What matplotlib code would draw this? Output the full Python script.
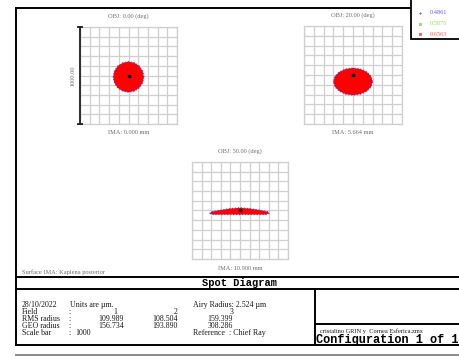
import matplotlib
matplotlib.use("Agg")
import matplotlib.pyplot as plt
from matplotlib.patches import Rectangle

W, H = 459, 356

# field / report data
field_num = [1, 2, 3]
field_obj_deg = [0.00, 20.00, 50.00]
field_ima_mm = [0.000, 5.664, 10.900]
rms_radius = [109.989, 108.504, 159.399]
geo_radius = [156.734, 193.890, 308.286]
scale_bar = 1000
airy_radius = 2.524
wavelengths = [0.4861, 0.5876, 0.6563]
wave_colors = ["#5e5eff", "#a2de62", "#ff5e5e"]

# spot outlines (um, relative to the chief ray)
spot1_x = [158, 146, 112, 60, 0, -60, -112, -146, -158, -146, -112, -60, 0, 60, 112, 146]
spot1_y = [-15, 45, 97, 131, 143, 131, 97, 45, -15, -75, -127, -161, -173, -161, -127, -75]
spot2_x = [200, 185, 141, 77, 0, -77, -141, -185, -200, -185, -141, -77, 0, 77, 141, 185]
spot2_y = [-67, -14, 31, 61, 72, 61, 31, -14, -67, -120, -165, -195, -206, -195, -165, -120]
spot3_x = [-315, -280, 0, 270, 305, 290, 200, 100, 0, -100, -200, -295]
spot3_y = [-30, -42, -42, -42, -30, -12, 5, 20, 28, 20, 5, -12]
spots = [(spot1_x, spot1_y), (spot2_x, spot2_y), (spot3_x, spot3_y)]

# layout (pixels)
boxes = [(80, 27, 97, 97), (304, 26, 98, 98), (192, 162, 96, 97)]
SERIF = "Liberation Serif"
MONO = "Liberation Mono"
LABEL_GRAY = "#6e6e6e"
TEXT = "#161616"

fig = plt.figure(figsize=(W / 100, H / 100), dpi=100)
fig.patch.set_facecolor("white")

# overlay in pixel coordinates for frame and text
ov = fig.add_axes([0, 0, 1, 1])
ov.set_xlim(0, W)
ov.set_ylim(H, 0)
ov.axis("off")

half = scale_bar / 2
ticks = list(range(-500, 501, 100))

for i, (box, (sx, sy)) in enumerate(zip(boxes, spots)):
    x, y, w, h = box
    ax = fig.add_axes([x / W, 1 - (y + h) / H, w / W, h / H])
    ax.set_xlim(-half, half)
    ax.set_ylim(-half, half)
    ax.set_xticks(ticks)
    ax.set_yticks(ticks)
    ax.grid(color="#cfcfcf", lw=0.9)
    ax.set_axisbelow(True)
    ax.tick_params(length=0, labelbottom=False, labelleft=False)
    for s in ax.spines.values():
        s.set_color("#cfcfcf")
        s.set_linewidth(0.9)
    ax.fill(sx, sy, facecolor="#ff0000", edgecolor="#5a3cc8",
            lw=0.8, ls=":", zorder=3)
    ax.plot([0], [0], "o", color="black", ms=1.6, zorder=4)

    ov.text(x + w / 2, y - 11, f"OBJ: {field_obj_deg[i]:.2f} (deg)",
            ha="center", va="center", fontsize=4.6, family=SERIF, color=LABEL_GRAY)
    ov.text(x + w / 2, y + h + 9, f"IMA: {field_ima_mm[i]:.3f} mm",
            ha="center", va="center", fontsize=4.6, family=SERIF, color=LABEL_GRAY)

    if i == 0:
        ax.plot([-half, -half], [-half, half], color="#1e1e1e", lw=1.3,
                clip_on=False, zorder=5)
        ax.plot([-half, -half], [-half, half], ls="none", marker="_", ms=4.5,
                mew=1.3, color="#1e1e1e", clip_on=False, zorder=5)
        ax.text(-half - 70, 0, f"{scale_bar:.2f}", rotation=90, ha="center",
                va="center", fontsize=4.6, family=SERIF, color=LABEL_GRAY)

# frame
k = dict(color="black", lw=1.4)
ov.plot([16, 411], [8, 8], **k)
ov.plot([16, 16], [8, 345], **k)
for yy in (277, 289, 345):
    ov.plot([16, W], [yy, yy], **k)
ov.plot([315, 315], [289, 345], **k)
ov.plot([315, W], [324, 324], **k)
ov.plot([16, W], [355, 355], color="#8a8a8a", lw=1.4)

# legend box
ov.add_patch(Rectangle((411, -2), 60, 40.5, facecolor="white",
                       edgecolor="black", lw=1.3, zorder=6))
markers = ["+", "s", "s"]
for j, (wl, c) in enumerate(zip(wavelengths, wave_colors)):
    ly = 13 + j * 10.5
    ov.plot(420, ly, marker=markers[j], color=c, ms=1.4, mew=0.8, zorder=7)
    ov.text(430, ly, f"{wl:.4f}", ha="left", va="center", fontsize=4.6,
            family=SERIF, color=c, zorder=7)

ov.text(22, 272, "Surface IMA: Kaplena posterior", ha="left", va="center",
        fontsize=4.6, family=SERIF, color=LABEL_GRAY)

ov.text(240, 283.5, "Spot Diagram", ha="center", va="center", fontsize=7.5,
        family=MONO, weight="bold", color="black")

# report text
tk = dict(va="center", fontsize=5.7, family=SERIF, color=TEXT)
ry = [305, 312, 319, 325.8, 332.6]
ov.text(22, ry[0], "28/10/2022", ha="left", **tk)
ov.text(70, ry[0], "Units are \u00b5m.", ha="left", **tk)
ov.text(193, ry[0], f"Airy Radius: {airy_radius:.3f} \u00b5m", ha="left", **tk)

ov.text(22, ry[1], "Field", ha="left", **tk)
ov.text(22, ry[2], "RMS radius", ha="left", **tk)
ov.text(22, ry[3], "GEO radius", ha="left", **tk)
ov.text(22, ry[4], "Scale bar", ha="left", **tk)
for r in ry[1:]:
    ov.text(68, r, ":", ha="left", **tk)
ov.text(75, ry[4], f"{scale_bar}", ha="left", **tk)

num_cx = [115, 176, 232]
val_rx = [124, 178, 233]
for j in range(3):
    ov.text(num_cx[j], ry[1], f"{field_num[j]}", ha="center", **tk)
    ov.text(val_rx[j], ry[2], f"{rms_radius[j]:.3f}", ha="right", **tk)
    ov.text(val_rx[j], ry[3], f"{geo_radius[j]:.3f}", ha="right", **tk)
ov.text(193, ry[4], "Reference  : Chief Ray", ha="left", **tk)

ov.text(371, 331, "cristalino GRIN y  Cornea Esferica.zmx", ha="center",
        va="center", fontsize=4.6, family=SERIF, color=TEXT)
ov.text(316, 340, "Configuration 1 of 1", ha="left", va="center", fontsize=8.6,
        family=MONO, weight="bold", color="black")

fig.savefig("out.png", dpi=100)
